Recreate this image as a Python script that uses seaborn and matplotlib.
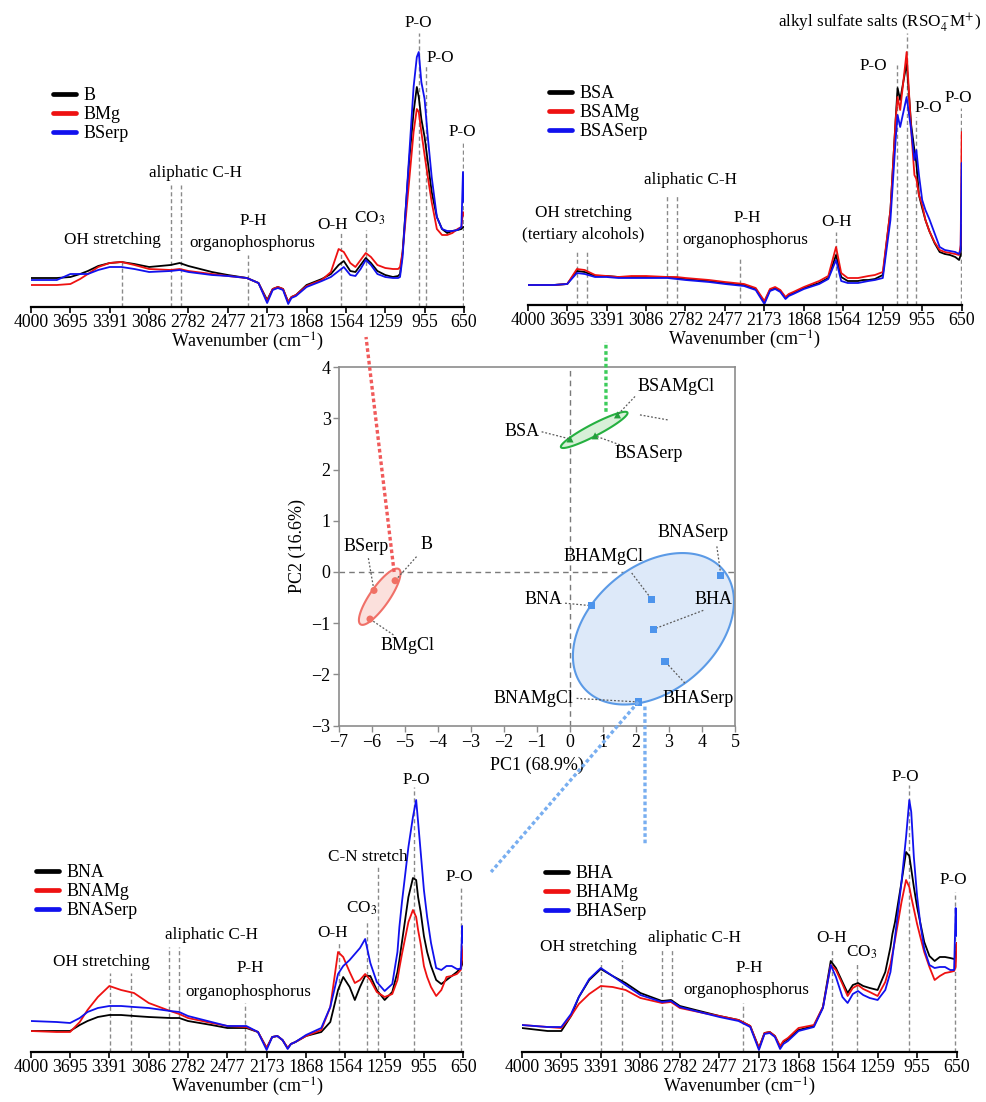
import numpy as np
import pandas as pd
import matplotlib
matplotlib.use("Agg")
import matplotlib.pyplot as plt
import seaborn as sns
from matplotlib.lines import Line2D

# ---------------- data ----------------
wavenumber = [4000, 3800, 3695, 3620, 3560, 3480, 3391, 3300,
              3200, 3086, 2920, 2850, 2782, 2600, 2477, 2330,
              2240, 2173, 2130, 2090, 2050, 2010, 1985, 1950,
              1868, 1750, 1680, 1620, 1580, 1530, 1490, 1450,
              1410, 1370, 1320, 1259, 1200, 1160, 1145, 1125,
              1075, 1040, 1015, 1000, 980, 955, 930, 900,
              860, 820, 780, 740, 700, 670, 658, 650]
wn_ticks = [4000, 3695, 3391, 3086, 2782, 2477, 2173, 1868, 1564, 1259, 955, 650]

# top-left: B series
B = [.29, .29, .30, .33, .36, .41, .44, .45,
     .43, .40, .42, .44, .41, .35, .32, .29,
     .24, .07, .18, .20, .18, .05, .10, .12,
     .22, .28, .33, .42, .46, .36, .35, .42,
     .49, .44, .36, .32, .30, .31, .33, .55,
     1.45, 1.95, 2.20, 2.10, 1.88, 1.70, 1.45, 1.15,
     .90, .78, .74, .76, .77, .78, .80, .80]
BMg = [.22, .22, .23, .28, .33, .40, .44, .45,
       .42, .38, .37, .38, .36, .33, .31, .29,
       .24, .06, .18, .20, .18, .05, .10, .12,
       .21, .27, .35, .58, .55, .44, .40, .47,
       .54, .50, .42, .39, .38, .38, .40, .55,
       1.25, 1.75, 1.98, 1.95, 1.75, 1.52, 1.30, 1.05,
       .78, .72, .72, .74, .78, .80, .95, .92]
BSerp = [.27, .27, .33, .33, .33, .37, .40, .40,
         .38, .35, .36, .37, .35, .32, .31, .29,
         .24, .04, .17, .19, .17, .03, .09, .11,
         .20, .26, .30, .36, .40, .32, .31, .38,
         .47, .42, .33, .30, .29, .29, .30, .50,
         1.50, 2.20, 2.50, 2.55, 2.25, 2.08, 1.70, 1.30,
         .90, .78, .76, .76, .77, .80, 1.35, 1.05]

# top-right: BSA series
BSA = [.20, .20, .21, .34, .33, .29, .29, .28,
       .28, .28, .28, .27, .26, .24, .22, .20,
       .16, .03, .15, .17, .14, .07, .10, .12,
       .17, .22, .27, .50, .28, .24, .24, .24,
       .25, .25, .26, .30, .95, 1.85, 2.17, 2.05,
       2.42, 1.80, 1.55, 1.42, 1.10, .97, .85, .74,
       .62, .53, .51, .50, .48, .45, .50, .80]
BSAMg = [.20, .20, .21, .36, .35, .30, .29, .28,
         .29, .29, .28, .28, .27, .25, .23, .21,
         .17, .04, .16, .18, .15, .08, .11, .13,
         .18, .24, .29, .58, .32, .27, .27, .27,
         .28, .29, .30, .33, .95, 1.85, 2.08, 1.95,
         2.53, 1.75, 1.30, 1.26, 1.10, 1.00, .85, .74,
         .63, .55, .53, .52, .51, .50, .60, 1.73]
BSASerp = [.20, .20, .21, .32, .31, .28, .28, .27,
           .27, .27, .27, .26, .25, .23, .21, .19,
           .15, .01, .14, .16, .13, .06, .09, .11,
           .16, .21, .26, .45, .24, .22, .22, .22,
           .23, .24, .25, .27, .85, 1.65, 1.90, 1.78,
           2.08, 1.75, 1.45, 1.55, 1.30, 1.05, .95, .86,
           .72, .58, .55, .54, .53, .51, .55, 1.42]

# bottom-left: BNA series
BNA = [.21, .21, .21, .27, .31, .35, .37, .37,
       .36, .35, .34, .34, .31, .27, .24, .24,
       .20, .04, .15, .16, .12, .04, .08, .10,
       .16, .20, .30, .62, .75, .65, .52, .65,
       .76, .76, .62, .52, .60, .80, .92, 1.10,
       1.55, 1.74, 1.72, 1.55, 1.40, 1.16, 1.00, .86,
       .72, .68, .72, .76, .80, .84, .88, .92]
BNAMg = [.21, .20, .20, .30, .42, .55, .66, .62,
         .59, .49, .41, .38, .34, .29, .26, .25,
         .20, .04, .15, .16, .12, .04, .08, .10,
         .16, .22, .45, 1.00, .95, .80, .69, .72,
         .78, .72, .60, .55, .58, .72, .84, .98,
         1.30, 1.42, 1.35, 1.22, 1.08, .86, .75, .65,
         .56, .62, .75, .76, .78, .82, .95, 1.06]
BNASerp = [.31, .30, .29, .34, .40, .44, .46, .46,
           .45, .44, .41, .40, .36, .30, .26, .26,
           .20, .02, .15, .16, .12, .03, .08, .10,
           .17, .24, .45, .78, .86, .92, .98, 1.04,
           1.13, .89, .70, .61, .68, 1.00, 1.25, 1.50,
           2.05, 2.35, 2.52, 2.30, 2.00, 1.62, 1.35, 1.09,
           .84, .82, .86, .86, .83, .83, 1.26, 1.09]

# bottom-right: BHA series
BHA = [.24, .21, .21, .36, .55, .72, .83, .76,
       .69, .59, .51, .52, .46, .40, .36, .32,
       .26, .04, .19, .20, .16, .05, .10, .13,
       .22, .26, .45, .91, .84, .70, .59, .67,
       .69, .66, .64, .62, .80, 1.05, 1.18, 1.30,
       1.70, 2.00, 1.96, 1.83, 1.65, 1.45, 1.29, 1.10,
       .96, .91, .95, .95, .94, .93, .95, 1.09]
BHAMg = [.27, .25, .24, .36, .48, .58, .66, .65,
         .62, .54, .49, .50, .44, .39, .36, .32,
         .26, .04, .19, .20, .16, .06, .11, .14,
         .24, .27, .45, .87, .82, .68, .56, .64,
         .67, .63, .60, .56, .70, .88, .98, 1.12,
         1.50, 1.72, 1.65, 1.55, 1.43, 1.28, 1.15, 1.00,
         .85, .72, .76, .79, .80, .81, .85, 1.09]
BHASerp = [.27, .25, .25, .38, .55, .73, .84, .76,
           .67, .57, .50, .51, .45, .39, .35, .31,
           .25, .02, .18, .19, .15, .03, .08, .11,
           .21, .25, .44, .87, .75, .55, .49, .58,
           .61, .57, .54, .52, .62, .80, .95, 1.15,
           1.70, 2.15, 2.52, 2.40, 1.95, 1.56, 1.28, 1.03,
           .87, .84, .85, .85, .82, .82, 1.44, 1.16]

# PCA scores
pc_labels = ["B", "BSerp", "BMgCl", "BSA", "BSAMgCl", "BSASerp",
             "BNA", "BNAMgCl", "BNASerp", "BHA", "BHAMgCl", "BHASerp"]
pc1 = [-5.30, -5.94, -6.06, 0.00, 1.44, 0.76, 0.66, 2.07, 4.57, 2.52, 2.47, 2.88]
pc2 = [-0.17, -0.36, -0.92, 2.60, 3.07, 2.66, -0.66, -2.54, -0.06, -1.12, -0.53, -1.75]
pc_group = ["B"] * 3 + ["BSA"] * 3 + ["BNA/BHA"] * 6
group_order = ["B", "BSA", "BNA/BHA"]
# ellipse half extents along x / y and tilt correlation, per group
ell_hx = [0.63, 1.01, 2.44]
ell_hy = [0.55, 0.354, 1.48]
ell_rho = [0.83, 0.93, 0.36]

# ---------------- style ----------------
sns.set_theme(style="white")
plt.rcParams["font.family"] = ["Liberation Serif", "DejaVu Serif"]
plt.rcParams["mathtext.fontset"] = "stix"
for k in ["text.color", "axes.labelcolor", "xtick.color", "ytick.color"]:
    plt.rcParams[k] = "black"

line_colors = ["#000000", "#ee1111", "#1111ee"]
grp_edge = ["#f07068", "#25b040", "#5b9ae6"]
grp_face = ["#fbe0dc", "#d8f0d8", "#dde9f9"]
grp_mark = ["#f07064", "#23a03c", "#4d94ec"]
grp_marker = ["o", "^", "s"]
mark_gray = "#8a8a8a"

W, H = 987, 1102
fig = plt.figure(figsize=(W / 100, H / 100), dpi=100)


def px_axes(x0, x1, y_bot, y_top):
    ax = fig.add_axes([x0 / W, 1 - y_bot / H, (x1 - x0) / W, (y_bot - y_top) / H])
    ax.patch.set_alpha(0)
    return ax


def draw_spectrum(ax, names, series, lines, texts, legend_at):
    df = pd.DataFrame({
        "wn": wavenumber * len(names),
        "absorbance": np.concatenate(series),
        "sample": np.repeat(names, len(wavenumber)),
    })
    sns.lineplot(data=df, x="wn", y="absorbance", hue="sample", hue_order=names,
                 palette=line_colors, estimator=None, sort=False, lw=1.3, ax=ax)
    ax.set_xlim(4000, 650)
    ax.set_ylim(0, 3.0)
    ax.set_xticks(wn_ticks)
    ax.set_xticklabels([str(v) for v in wn_ticks])
    ax.set_yticks([])
    for s in ["left", "top", "right"]:
        ax.spines[s].set_visible(False)
    ax.spines["bottom"].set_color("black")
    ax.spines["bottom"].set_linewidth(1.6)
    ax.tick_params(axis="x", bottom=True, direction="out", length=4, width=1.2,
                   color="black", labelsize=12.8, pad=1)
    ax.set_xlabel("Wavenumber (cm$^{-1}$)", fontsize=13, labelpad=0)
    ax.set_ylabel("")
    for wn, top in lines:
        ax.vlines(wn, 0, top, colors=mark_gray, linestyles=(0, (3, 2)), lw=1.0, zorder=1)
    for txt, wn, h in texts:
        ax.text(wn, h, txt, ha="center", va="center", fontsize=12.3, clip_on=False)
    handles, labels = ax.get_legend_handles_labels()
    leg = ax.legend(handles, labels, loc="upper left",
                    bbox_to_anchor=(legend_at[0] / W, 1 - legend_at[1] / H),
                    bbox_transform=fig.transFigure, frameon=False, fontsize=13,
                    handlelength=1.25, handletextpad=0.45, labelspacing=0.12,
                    borderpad=0, borderaxespad=0)
    for ln in leg.get_lines():
        ln.set_linewidth(3.4)


ax_tl = px_axes(31, 464, 307, 7)
draw_spectrum(ax_tl, ["B", "BMg", "BSerp"], [B, BMg, BSerp],
              [(3296, .47), (2917, 1.22), (2840, 1.22), (2321, .52), (1600, .74),
               (1408, .77), (1000, 2.74), (944, 2.42), (658, 1.65)],
              [("OH stretching", 3373, .67), ("aliphatic C-H", 2731, 1.34), ("P-H", 2282, .86),
               ("organophosphorus", 2290, .64), ("O-H", 1664, .82), ("CO$_3$", 1377, .89),
               ("P-O", 1000, 2.84), ("P-O", 836, 2.49), ("P-O", 665, 1.75)],
              (53, 87))

ax_tr = px_axes(527.7, 961.7, 305, 5)
draw_spectrum(ax_tr, ["BSA", "BSAMg", "BSASerp"], [BSA, BSAMg, BSASerp],
              [(3616, .55), (3546, .55), (2922, 1.10), (2848, 1.10), (2364, .48), (1617, .73),
               (1150, 2.40), (1074, 2.72), (1003, 1.88), (655, 1.97)],
              [("OH stretching", 3573, .92), ("(tertiary alcohols)", 3573, .70),
               ("aliphatic C-H", 2747, 1.25), ("P-H", 2307, .87), ("organophosphorus", 2323, .65),
               ("O-H", 1613, .83), ("P-O", 1335, 2.39),
               ("alkyl sulfate salts (RSO$_4^{-}$M$^{+}$)", 1288, 2.82),
               ("P-O", 910, 1.97), ("P-O", 675, 2.07)],
              (549, 85))

ax_bl = px_axes(30.7, 463.3, 1052, 752)
draw_spectrum(ax_bl, ["BNA", "BNAMg", "BNASerp"], [BNA, BNAMg, BNASerp],
              [(3386, .79), (3226, .79), (2927, 1.05), (2852, 1.05), (2340, .49), (1613, 1.09),
               (1398, 1.32), (1313, 1.85), (1030, 2.65), (670, 1.64)],
              [("OH stretching", 3450, .90), ("aliphatic C-H", 2598, 1.17), ("P-H", 2296, .84),
               ("organophosphorus", 2315, .60), ("O-H", 1661, 1.19), ("CO$_3$", 1437, 1.44),
               ("C-N stretch", 1393, 1.95), ("P-O", 1011, 2.72), ("P-O", 681, 1.75)],
              (36, 864))

ax_br = px_axes(521.7, 956.7, 1052, 752)
draw_spectrum(ax_br, ["BHA", "BHAMg", "BHASerp"], [BHA, BHAMg, BHASerp],
              [(3389, .92), (3230, .92), (2917, 1.03), (2845, 1.03), (2298, .49), (1614, 1.04),
               (1415, .89), (1019, 2.67), (665, 1.60)],
              [("OH stretching", 3487, 1.05), ("aliphatic C-H", 2671, 1.14), ("P-H", 2247, .84),
               ("organophosphorus", 2267, .62), ("O-H", 1613, 1.14), ("CO$_3$", 1382, 1.00),
               ("P-O", 1048, 2.75), ("P-O", 676, 1.72)],
              (545, 865))

# ---------------- PCA score plot ----------------
pca = px_axes(339, 735, 725.5, 367.3)
pca.patch.set_alpha(1)
pca.patch.set_facecolor("white")
pca.set_zorder(3)
pc_df = pd.DataFrame({"PC1": pc1, "PC2": pc2, "group": pc_group, "label": pc_labels})

pca.axhline(0, color="#7a7a7a", ls=(0, (4, 3)), lw=1.0, zorder=1)
pca.axvline(0, color="#7a7a7a", ls=(0, (4, 3)), lw=1.0, zorder=1)

t = np.linspace(0, 2 * np.pi, 240)
for g, hx, hy, rho, ec, fc in zip(group_order, ell_hx, ell_hy, ell_rho, grp_edge, grp_face):
    sub = pc_df[pc_df.group == g]
    cx, cy = sub.PC1.mean(), sub.PC2.mean()
    ex = cx + hx * np.cos(t)
    ey = cy + hy * (rho * np.cos(t) + np.sqrt(1 - rho ** 2) * np.sin(t))
    pca.fill(ex, ey, facecolor=fc, edgecolor=ec, lw=1.5, zorder=2)

sns.scatterplot(data=pc_df, x="PC1", y="PC2", hue="group", style="group",
                hue_order=group_order, style_order=group_order,
                palette=grp_mark, markers=grp_marker, s=26, edgecolor="none",
                legend=False, ax=pca, zorder=4)

label_xy = {"B": (-4.36, 0.53), "BSerp": (-6.19, 0.50), "BMgCl": (-4.93, -1.44),
            "BSA": (-1.46, 2.74), "BSAMgCl": (3.21, 3.62), "BSASerp": (2.39, 2.32),
            "BNA": (-0.79, -0.53), "BNAMgCl": (-1.11, -2.47), "BNASerp": (3.74, 0.77),
            "BHA": (4.36, -0.53), "BHAMgCl": (1.03, 0.30), "BHASerp": (3.89, -2.47)}
leader_from = {"B": (-4.65, 0.30), "BSerp": (-6.11, 0.27), "BMgCl": (-5.35, -1.23),
               "BSA": (-0.86, 2.74), "BSAMgCl": (1.97, 3.43), "BSASerp": (1.62, 2.46),
               "BNA": (-0.15, -0.61), "BNAMgCl": (0.20, -2.47), "BNASerp": (4.45, 0.50),
               "BHA": (4.04, -0.75), "BHAMgCl": (1.87, -0.02), "BHASerp": (3.48, -2.17)}
for lab, x, y in zip(pc_labels, pc1, pc2):
    lx, ly = label_xy[lab]
    sx, sy = leader_from[lab]
    pca.plot([sx, x], [sy, y], color="#5a5a5a", lw=0.9, ls=(0, (1.5, 1.5)), zorder=3)
    pca.text(lx, ly, lab, ha="center", va="center", fontsize=13, zorder=5)
pca.plot([2.12, 2.98], [3.07, 2.97], color="#5a5a5a", lw=0.9, ls=(0, (1.5, 1.5)), zorder=3)

pca.set_xlim(-7, 5)
pca.set_ylim(-3, 4)
pca.set_xticks(range(-7, 6))
pca.set_yticks(range(-3, 5))
for s in pca.spines.values():
    s.set_color("#8c8c8c")
    s.set_linewidth(1.2)
pca.tick_params(bottom=True, left=True, direction="out", length=4, width=1,
                color="#8c8c8c", labelsize=13, pad=2)
pca.set_xlabel("PC1 (68.9%)", fontsize=13, labelpad=4)
pca.set_ylabel("PC2 (16.6%)", fontsize=13, labelpad=4)

# dotted links between the score plot and the spectra
links = [((-5.33, 0.0), ax_tl, (1408, -0.30), "#f05a5a"),
         ((1.09, 3.13), ax_tr, (3396, -0.37), "#3ccc5a"),
         ((2.07, -2.54), ax_bl, (435, 1.80), "#78aef0"),
         ((2.27, -2.63), ax_br, (3050, 2.07), "#78aef0")]
to_fig = fig.transFigure.inverted()
for xy_pca, ax_s, xy_s, col in links:
    p0 = to_fig.transform(pca.transData.transform(xy_pca))
    p1 = to_fig.transform(ax_s.transData.transform(xy_s))
    fig.add_artist(Line2D([p0[0], p1[0]], [p0[1], p1[1]], transform=fig.transFigure,
                          color=col, lw=2.4, ls=(0, (1.1, 0.8)), zorder=6))

fig.savefig("out.png", dpi=100)
